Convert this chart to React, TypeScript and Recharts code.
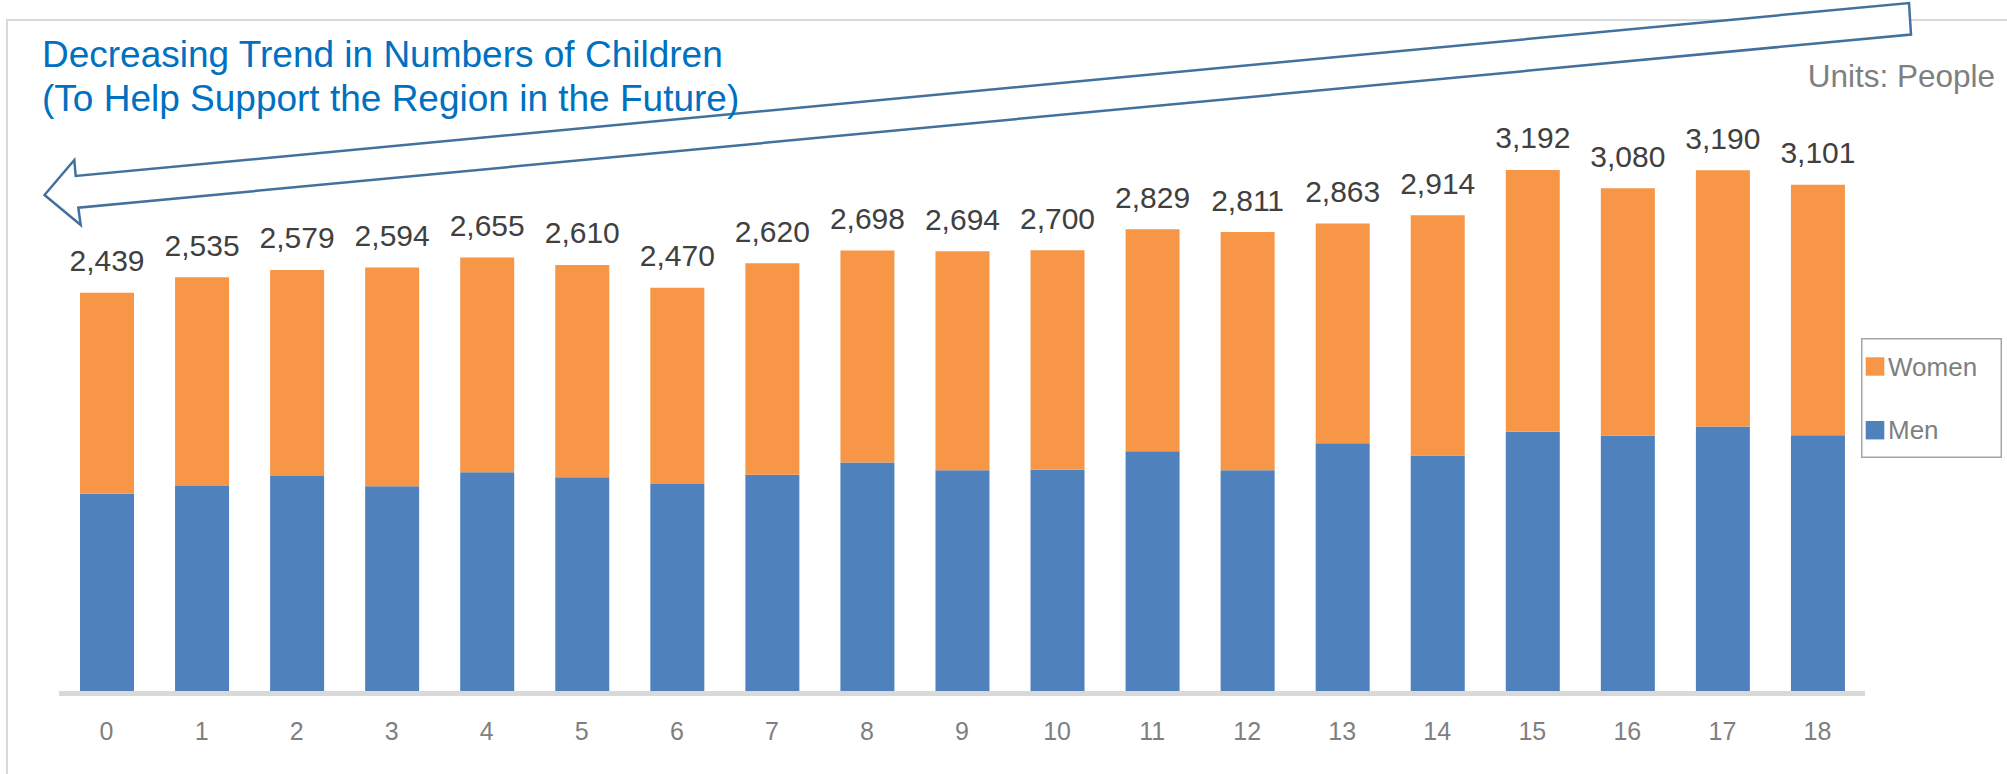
import React from 'react';
import { BarChart, Bar, XAxis, YAxis, Legend, LabelList } from 'recharts';

const categories = ['0', '1', '2', '3', '4', '5', '6', '7', '8', '9', '10', '11', '12', '13', '14', '15', '16', '17', '18'];
const menValues = [1209, 1256, 1317, 1254, 1340, 1309, 1268, 1325, 1399, 1352, 1356, 1469, 1352, 1518, 1442, 1588, 1564, 1620, 1567];
const totalValues = [2439, 2535, 2579, 2594, 2655, 2610, 2470, 2620, 2698, 2694, 2700, 2829, 2811, 2863, 2914, 3192, 3080, 3190, 3101];
const womenValues = [1230, 1279, 1262, 1340, 1315, 1301, 1202, 1295, 1299, 1342, 1344, 1360, 1459, 1345, 1472, 1604, 1516, 1570, 1534];

const seriesNames = { men: 'Men', women: 'Women' };
const titleLines = ['Decreasing Trend in Numbers of Children', '(To Help Support the Region in the Future)'];
const unitsLabel = 'Units: People';

const data = categories.map((c, i) => ({
  age: c,
  men: menValues[i],
  women: womenValues[i],
  total: totalValues[i],
}));

const MEN_COLOR = '#4F81BD';
const WOMEN_COLOR = '#F79646';
const FONT = "'Liberation Sans', Arial, sans-serif";

const LegendBox = (props: any) => {
  const payload = (props.payload || []).slice().reverse();
  return (
    <svg width={141} height={120} style={{ display: 'block', fontFamily: FONT }}>
      <rect x={0.75} y={0.75} width={139.5} height={118.5} fill="#fff" stroke="#a6a6a6" strokeWidth={1.5} />
      {payload.map((p: any, i: number) => (
        <g key={p.value}>
          <rect x={4.7} y={19.3 + i * 63.7} width={18.6} height={18.4} fill={p.color} />
          <text x={27} y={37.7 + i * 63.7} fontSize={26} fill="#7f7f7f">{p.value}</text>
        </g>
      ))}
    </svg>
  );
};

export default function App() {
  return (
    <div style={{ position: 'absolute', left: 0, top: 0, width: 2007, height: 774, background: '#fff', fontFamily: FONT, overflow: 'hidden' }}>
      <svg width={2007} height={774} style={{ position: 'absolute', left: 0, top: 0 }}>
        <path d="M7,780 L7,20 L2010,20" fill="none" stroke="#d9d9d9" strokeWidth={2} />
      </svg>
      <div style={{ position: 'absolute', left: 0, top: 0 }}>
        <BarChart
          width={2007}
          height={774}
          data={data}
          margin={{ top: 38, right: 142, bottom: 43, left: 59 }}
          barSize={54}
        >
          <XAxis
            dataKey="age"
            height={40}
            tickLine={false}
            tickMargin={25}
            axisLine={{ stroke: '#d9d9d9', strokeWidth: 5, transform: 'translate(0,2.5)' }}
            tick={{ fill: '#7f7f7f', fontSize: 25 }}
            interval={0}
          />
          <YAxis hide domain={[0, 4000]} />
          <Legend
            layout="vertical"
            align="center"
            verticalAlign="middle"
            wrapperStyle={{ position: 'absolute', left: 1861, top: 338, width: 141, height: 120 }}
            content={<LegendBox />}
          />
          <Bar dataKey="men" name={seriesNames.men} stackId="a" fill={MEN_COLOR} isAnimationActive={false} />
          <Bar dataKey="women" name={seriesNames.women} stackId="a" fill={WOMEN_COLOR} isAnimationActive={false}>
            <LabelList
              dataKey="total"
              position="top"
              offset={21.5}
              fill="#404040"
              fontSize={30}
              formatter={(v: any) => Number(v).toLocaleString('en-US')}
            />
          </Bar>
        </BarChart>
      </div>
      <svg width={2007} height={774} style={{ position: 'absolute', left: 0, top: 0, pointerEvents: 'none' }}>
        <polygon
          points="44.5,195 74.3,160 75.7,176 1909,3 1911,34.5 78.3,207.7 80.7,225"
          fill="#fff"
          stroke="#41719C"
          strokeWidth={2.5}
          strokeLinejoin="miter"
        />
        <text x={42} y={67} fontSize={37} fill="#0070C0" fontFamily={FONT}>{titleLines[0]}</text>
        <text x={42} y={111} fontSize={37} fill="#0070C0" fontFamily={FONT}>{titleLines[1]}</text>
        <text x={1995} y={87} fontSize={31.5} fill="#7f7f7f" textAnchor="end" fontFamily={FONT}>{unitsLabel}</text>
      </svg>
    </div>
  );
}
